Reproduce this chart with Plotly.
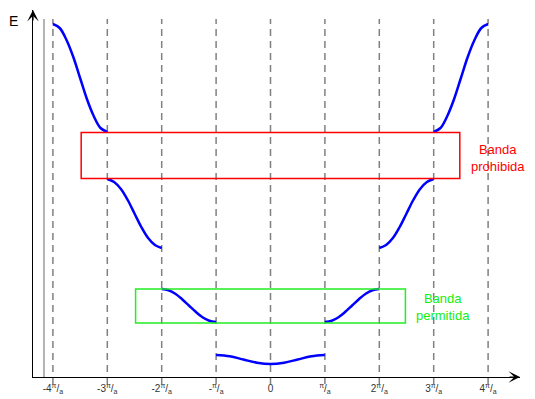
import plotly.graph_objects as go

# ---- data (k in units of pi/a, E in arbitrary units) ----
k_ticks = [-4, -3, -2, -1, 0, 1, 2, 3, 4]
tick_labels = ["-4<sup>π</sup>/<sub>a</sub>", "-3<sup>π</sup>/<sub>a</sub>", "-2<sup>π</sup>/<sub>a</sub>",
               "-<sup>π</sup>/<sub>a</sub>", "0", "<sup>π</sup>/<sub>a</sub>",
               "2<sup>π</sup>/<sub>a</sub>", "3<sup>π</sup>/<sub>a</sub>", "4<sup>π</sup>/<sub>a</sub>"]

band1_k = [-1, -0.75, -0.5, -0.25, 0, 0.25, 0.5, 0.75, 1]
band1_E = [2.2, 2.07, 1.75, 1.43, 1.3, 1.43, 1.75, 2.07, 2.2]

band2_left_k = [-2, -1.875, -1.75, -1.625, -1.5, -1.375, -1.25, -1.125, -1]
band2_left_E = [8.8, 8.67, 8.32, 7.78, 7.15, 6.52, 5.98, 5.63, 5.5]
band2_right_k = [1, 1.125, 1.25, 1.375, 1.5, 1.625, 1.75, 1.875, 2]
band2_right_E = [5.5, 5.63, 5.98, 6.52, 7.15, 7.78, 8.32, 8.67, 8.8]

band3_left_k = [-3, -2.875, -2.75, -2.625, -2.5, -2.375, -2.25, -2.125, -2]
band3_left_E = [19.8, 19.5, 18.8, 17.7, 16.35, 15.0, 13.9, 13.2, 12.9]
band3_right_k = [2, 2.125, 2.25, 2.375, 2.5, 2.625, 2.75, 2.875, 3]
band3_right_E = [12.9, 13.2, 13.9, 15.0, 16.35, 17.7, 18.8, 19.5, 19.8]

band4_left_k = [-4, -3.875, -3.75, -3.625, -3.5, -3.375, -3.25, -3.125, -3]
band4_left_E = [35.3, 34.9, 33.7, 32.0, 29.9, 27.8, 26.1, 24.9, 24.5]
band4_right_k = [3, 3.125, 3.25, 3.375, 3.5, 3.625, 3.75, 3.875, 4]
band4_right_E = [24.5, 24.9, 26.1, 27.8, 29.9, 32.0, 33.7, 34.9, 35.3]

gap_box_k = [-3.48, 3.48]
gap_box_E = [19.85, 24.45]
allowed_box_k = [-2.48, 2.48]
allowed_box_E = [5.4, 8.8]

gap_label = "Banda<br>prohibida"
gap_label_pos = [4.18, 21.9]
allowed_label = "Banda<br>permitida"
allowed_label_pos = [3.18, 7.0]

inner_line_k = -4.164
inner_line_E = [0, 35.8]

FONT = "Liberation Sans, Arial, sans-serif"
W, H = 527, 391  # page body has an 8px margin in the 535x399 window

fig = go.Figure()
segments = [(band4_left_k, band4_left_E), (band3_left_k, band3_left_E), (band2_left_k, band2_left_E),
            (band1_k, band1_E), (band2_right_k, band2_right_E), (band3_right_k, band3_right_E),
            (band4_right_k, band4_right_E)]
for kk, ee in segments:
    fig.add_trace(go.Scatter(x=kk, y=ee, mode="lines", line=dict(color="#0000ff", width=2.5, shape="spline"),
                             showlegend=False, hoverinfo="skip"))

shapes = []
for k in k_ticks:
    shapes.append(dict(type="line", xref="x", yref="paper", x0=k, x1=k, y0=15 / H, y1=380 / H,
                       line=dict(color="#808080", width=1.5, dash="7px,5px"), layer="below"))
shapes.append(dict(type="line", xref="x", yref="y", x0=inner_line_k, x1=inner_line_k,
                   y0=inner_line_E[0], y1=inner_line_E[1], line=dict(color="#b4b4b4", width=2), layer="below"))
shapes.append(dict(type="rect", xref="x", yref="y", x0=gap_box_k[0], x1=gap_box_k[1],
                   y0=gap_box_E[0], y1=gap_box_E[1], line=dict(color="#ff0000", width=1.5)))
shapes.append(dict(type="rect", xref="x", yref="y", x0=allowed_box_k[0], x1=allowed_box_k[1],
                   y0=allowed_box_E[0], y1=allowed_box_E[1], line=dict(color="#22ee22", width=1.5)))

annotations = [
    dict(x=gap_label_pos[0], y=gap_label_pos[1], xref="x", yref="y", text=gap_label, showarrow=False,
         font=dict(family=FONT, size=13, color="#ff0000"), align="center"),
    dict(x=allowed_label_pos[0], y=allowed_label_pos[1], xref="x", yref="y", text=allowed_label, showarrow=False,
         font=dict(family=FONT, size=13, color="#11ee11"), align="center"),
    # axis arrowheads
    dict(x=4.5864, y=0, xref="x", yref="y", ax=-12, ay=0, text="", showarrow=True,
         arrowhead=3, arrowsize=1.6, arrowwidth=1.2, arrowcolor="#000000", standoff=0),
    dict(x=-4.3658, y=36.7, xref="x", yref="y", ax=0, ay=12, text="", showarrow=True,
         arrowhead=3, arrowsize=1.6, arrowwidth=1.2, arrowcolor="#000000", standoff=0),
    dict(x=5 / W, y=(H - 12.5) / H, xref="paper", yref="paper", text="E", showarrow=False,
         xanchor="center", yanchor="middle", font=dict(family=FONT, size=14, color="#000000")),
    dict(x=522 / W, y=21 / H, xref="paper", yref="paper", text="k", showarrow=False,
         xanchor="left", yanchor="middle", font=dict(family=FONT, size=14, color="#000000")),
]

fig.update_layout(
    width=W, height=H, margin=dict(l=0, r=0, t=0, b=0),
    paper_bgcolor="white", plot_bgcolor="white",
    shapes=shapes, annotations=annotations, showlegend=False,
    xaxis=dict(domain=[25 / W, 512 / W], range=[-4.3658, 4.5864], showgrid=False, zeroline=False,
               showline=True, linecolor="#000000", linewidth=1, ticks="",
               tickvals=k_ticks, ticktext=tick_labels, ticklabelstandoff=2,
               tickfont=dict(family=FONT, size=10, color="#333333"), fixedrange=True),
    yaxis=dict(domain=[22 / H, 389 / H], range=[0, 36.7], showgrid=False, zeroline=False,
               showline=True, linecolor="#000000", linewidth=1, ticks="", showticklabels=False,
               fixedrange=True),
)

fig.write_html("out.html")
